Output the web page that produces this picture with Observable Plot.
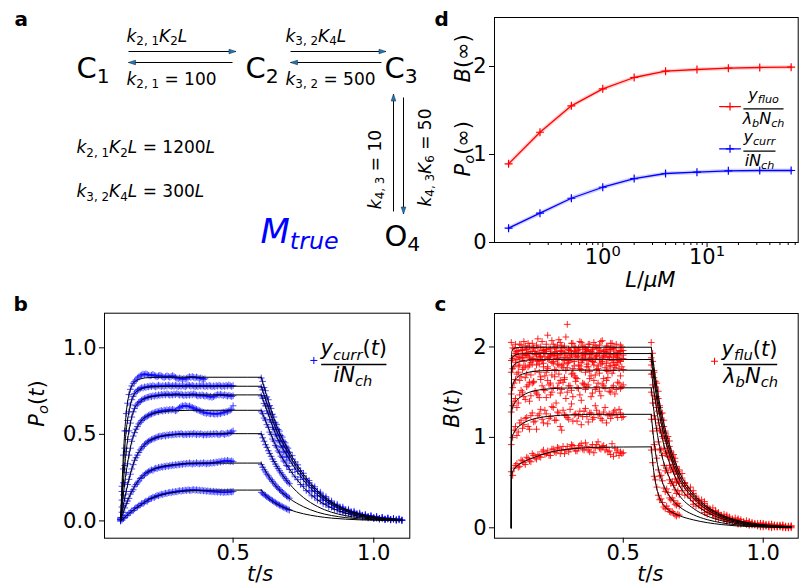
<!DOCTYPE html>
<html><head><meta charset="utf-8">
<script src="https://cdn.jsdelivr.net/npm/d3@7"></script>
<script src="https://cdn.jsdelivr.net/npm/@observablehq/plot@0.6"></script>
<style>
html,body{margin:0;padding:0;background:#fff;}
#fig{position:relative;width:799px;height:587px;overflow:hidden;background:#fff;}
#fig > svg{position:absolute;}
</style></head><body><div id="fig"></div>
<script>
// ================= DATA =================
// ---- panel a (kinetic scheme) ----
const states = ["C_{1}", "C_{2}", "C_{3}", "O_{4}"];
const forwardRates = ["$k_{2, 1}K_{2}L", "$k_{3, 2}K_{4}L"];
const backwardRates = ["$k_{2, 1} = 100", "$k_{3, 2} = 500"];
const verticalRates = ["$k_{4, 3} = 10", "$k_{4, 3}K_{6} = 50"];
const rateNotes = ["$k_{2, 1}K_{2}L = 1200L", "$k_{3, 2}K_{4}L = 300L"];
const modelName = "$M_{true}";

// ---- panel d ----
const ligandConc = [0.125, 0.25, 0.5, 1, 2, 4, 8, 16, 32, 64];
const bInfinity = [0.894, 1.253, 1.553, 1.746, 1.875, 1.947, 1.966, 1.981, 1.989, 1.992];
const poInfinity = [0.163, 0.333, 0.503, 0.628, 0.727, 0.784, 0.799, 0.815, 0.818, 0.818];
const dXTicks = [1, 10];
const dXTickLabels = ["10^{0}", "10^{1}"];
const dXMinorTicks = [0.2, 0.3, 0.4, 0.5, 0.6, 0.7, 0.8, 0.9, 2, 3, 4, 5, 6, 7, 8, 9, 20, 30, 40, 50, 60, 70];
const dYTicks = [0, 1, 2];
const dYTickLabels = ["0", "1", "2"];

// ---- shared axis ticks ----
const tTicks = [0.5, 1.0];
const tTickLabels = ["0.5", "1.0"];
const poTicks = [0, 0.5, 1.0];
const poTickLabels = ["0.0", "0.5", "1.0"];
const brTicks = [0, 1, 2];
const brTickLabels = ["0", "1", "2"];

// ---- sampling times ----
const tRiseFine = [0.100,0.105,0.110,0.115,0.120,0.125,0.130,0.135,0.140,0.145,0.150,0.155,0.160,0.165,0.170,0.175,0.180,0.185,0.190,0.195,0.200,0.205,0.210,0.215,0.220,0.225,0.230,0.235,0.240,0.245,0.250,0.255,0.260,0.265,0.270,0.275,0.280,0.285,0.290,0.295,0.300,0.305,0.310,0.315,0.320,0.325,0.330,0.335,0.340,0.345,0.350,0.355,0.360,0.365,0.370,0.375,0.380,0.385,0.390,0.395,0.400,0.405,0.410,0.415,0.420,0.425,0.430,0.435,0.440,0.445,0.450,0.455,0.460,0.465,0.470,0.475,0.480,0.485,0.490,0.495,0.500];
const tDecayFine = [0.600,0.605,0.610,0.615,0.620,0.625,0.630,0.635,0.640,0.645,0.650,0.655,0.660,0.665,0.670,0.675,0.680,0.685,0.690,0.695,0.700,0.71,0.72,0.73,0.74,0.75,0.76,0.77,0.78,0.79,0.80,0.81,0.82,0.83,0.84,0.85,0.86,0.87,0.88,0.89,0.90,0.91,0.92,0.93,0.94,0.95,0.96,0.97,0.98,0.99,1.00,1.01,1.02,1.03,1.04,1.05,1.06,1.07,1.08,1.09,1.10];
const tRise = [0.10,0.11,0.12,0.13,0.14,0.15,0.16,0.17,0.18,0.19,0.20,0.21,0.22,0.23,0.24,0.25,0.26,0.27,0.28,0.29,0.30,0.31,0.32,0.33,0.34,0.35,0.36,0.37,0.38,0.39,0.40,0.41,0.42,0.43,0.44,0.45,0.46,0.47,0.48,0.49,0.50];
const tRiseMid = [0.105,0.115,0.125,0.135,0.145,0.155,0.165,0.175,0.185,0.195,0.205,0.215,0.225,0.235,0.245,0.255,0.265,0.275,0.285,0.295,0.305,0.315,0.325,0.335,0.345,0.355,0.365,0.375,0.385,0.395,0.405,0.415,0.425,0.435,0.445,0.455,0.465,0.475,0.485,0.495];
const tDecay = [0.60,0.61,0.62,0.63,0.64,0.65,0.66,0.67,0.68,0.69,0.70,0.72,0.74,0.76,0.78,0.80,0.82,0.84,0.86,0.88,0.90,0.92,0.94,0.96,0.98,1.00,1.02,1.04,1.06,1.08,1.10];
const tDecayMid = [0.605,0.615,0.625,0.635,0.645,0.655,0.665,0.675,0.685,0.695,0.71,0.73,0.75,0.77,0.79,0.81,0.83,0.85,0.87,0.89,0.91,0.93,0.95,0.97,0.99,1.01,1.03,1.05,1.07,1.09];

// ---- panel b: model (black) ----
const tModelRiseB = [0.10,0.11,0.12,0.13,0.14,0.15,0.17,0.20,0.25,0.30,0.35,0.40,0.50,0.60];
const poModelRise = [
  [0, 0.012, 0.028, 0.042, 0.055, 0.068, 0.09, 0.123, 0.152, 0.167, 0.174, 0.177, 0.178, 0.178],
  [0, 0.05, 0.095, 0.135, 0.17, 0.2, 0.245, 0.285, 0.315, 0.327, 0.332, 0.334, 0.334, 0.334],
  [0, 0.09, 0.17, 0.24, 0.3, 0.35, 0.41, 0.46, 0.49, 0.5, 0.503, 0.504, 0.504, 0.504],
  [0, 0.15, 0.28, 0.38, 0.46, 0.51, 0.57, 0.61, 0.63, 0.637, 0.639, 0.639, 0.639, 0.639],
  [0, 0.22, 0.40, 0.52, 0.60, 0.65, 0.69, 0.715, 0.725, 0.728, 0.728, 0.728, 0.728, 0.728],
  [0, 0.30, 0.52, 0.63, 0.70, 0.735, 0.76, 0.773, 0.777, 0.778, 0.778, 0.778, 0.778, 0.778],
  [0, 0.38, 0.62, 0.73, 0.78, 0.805, 0.82, 0.828, 0.83, 0.83, 0.83, 0.83, 0.83, 0.83]
];
const tModelDecayB = [0.60,0.62,0.65,0.70,0.75,0.80,0.85,0.90,0.95,1.00,1.05,1.10];
const poModelDecay = [
  [0.178, 0.14, 0.103, 0.065, 0.041, 0.026, 0.016, 0.01, 0.006, 0.004, 0.002, 0.001],
  [0.334, 0.275, 0.205, 0.13, 0.082, 0.05, 0.031, 0.019, 0.011, 0.007, 0.004, 0.002],
  [0.504, 0.43, 0.33, 0.215, 0.135, 0.083, 0.05, 0.03, 0.018, 0.01, 0.006, 0.003],
  [0.639, 0.56, 0.44, 0.30, 0.195, 0.122, 0.075, 0.045, 0.026, 0.015, 0.008, 0.004],
  [0.728, 0.64, 0.505, 0.355, 0.235, 0.15, 0.093, 0.056, 0.033, 0.019, 0.011, 0.006],
  [0.778, 0.68, 0.54, 0.38, 0.255, 0.165, 0.103, 0.063, 0.038, 0.022, 0.012, 0.006],
  [0.83, 0.72, 0.57, 0.40, 0.27, 0.175, 0.11, 0.068, 0.041, 0.024, 0.013, 0.007]
];
// ---- panel b: measured current / (i N_ch), sampled on tRiseFine / tDecayFine ----
const poDataRise = [
  [0.01,0.005,0.015,0.02,0.03,0.033,0.045,0.05,0.058,0.06,0.07,0.077,0.08,0.088,0.092,0.1,0.1,0.108,0.115,0.113,0.122,0.128,0.13,0.137,0.135,0.142,0.147,0.145,0.15,0.155,0.152,0.157,0.16,0.158,0.163,0.165,0.162,0.168,0.166,0.17,0.168,0.172,0.175,0.171,0.176,0.174,0.178,0.175,0.18,0.177,0.176,0.179,0.181,0.177,0.18,0.176,0.178,0.174,0.177,0.173,0.175,0.171,0.174,0.17,0.172,0.168,0.171,0.167,0.17,0.166,0.169,0.165,0.168,0.164,0.167,0.165,0.168,0.166,0.169,0.167,0.17],
  [0.01,0.02,0.05,0.075,0.1,0.115,0.13,0.155,0.17,0.18,0.2,0.21,0.22,0.23,0.245,0.25,0.26,0.265,0.275,0.28,0.285,0.29,0.295,0.292,0.3,0.305,0.302,0.31,0.307,0.313,0.31,0.316,0.313,0.318,0.315,0.32,0.318,0.323,0.32,0.325,0.322,0.327,0.324,0.329,0.326,0.331,0.328,0.333,0.33,0.335,0.331,0.328,0.333,0.33,0.336,0.332,0.329,0.334,0.331,0.336,0.333,0.329,0.334,0.331,0.336,0.333,0.338,0.335,0.34,0.337,0.343,0.34,0.346,0.343,0.348,0.345,0.35,0.346,0.343,0.347,0.342],
  [0.0,0.05,0.09,0.13,0.17,0.21,0.24,0.27,0.3,0.325,0.35,0.365,0.38,0.395,0.41,0.42,0.43,0.44,0.448,0.455,0.46,0.465,0.47,0.473,0.477,0.48,0.484,0.487,0.49,0.488,0.492,0.495,0.49,0.497,0.494,0.499,0.496,0.5,0.497,0.502,0.499,0.503,0.5,0.505,0.501,0.497,0.502,0.498,0.503,0.499,0.504,0.5,0.506,0.502,0.498,0.503,0.499,0.504,0.5,0.496,0.501,0.497,0.502,0.498,0.503,0.499,0.504,0.5,0.505,0.501,0.497,0.502,0.506,0.503,0.499,0.504,0.508,0.505,0.51,0.514,0.52],
  [0.0,0.08,0.15,0.22,0.28,0.33,0.38,0.42,0.46,0.49,0.51,0.53,0.545,0.56,0.57,0.58,0.588,0.595,0.6,0.605,0.61,0.615,0.618,0.622,0.625,0.628,0.632,0.63,0.635,0.638,0.634,0.64,0.637,0.642,0.638,0.644,0.64,0.645,0.641,0.636,0.64,0.648,0.655,0.66,0.665,0.662,0.667,0.663,0.66,0.664,0.658,0.655,0.651,0.648,0.644,0.641,0.637,0.634,0.63,0.627,0.624,0.621,0.625,0.62,0.618,0.622,0.619,0.616,0.62,0.617,0.622,0.619,0.624,0.628,0.625,0.632,0.63,0.636,0.64,0.645,0.665],
  [0.01,0.12,0.22,0.32,0.4,0.47,0.52,0.565,0.6,0.63,0.65,0.665,0.675,0.685,0.69,0.698,0.703,0.707,0.71,0.714,0.715,0.72,0.717,0.723,0.72,0.726,0.722,0.728,0.725,0.731,0.727,0.732,0.728,0.734,0.73,0.726,0.731,0.727,0.733,0.729,0.735,0.731,0.727,0.732,0.728,0.724,0.729,0.725,0.73,0.726,0.732,0.728,0.734,0.73,0.726,0.722,0.727,0.723,0.728,0.724,0.72,0.725,0.721,0.716,0.72,0.714,0.718,0.722,0.726,0.73,0.727,0.732,0.728,0.724,0.729,0.725,0.721,0.726,0.722,0.719,0.723],
  [0.01,0.17,0.3,0.42,0.52,0.58,0.63,0.67,0.7,0.72,0.735,0.745,0.755,0.76,0.765,0.77,0.768,0.774,0.771,0.777,0.774,0.78,0.776,0.782,0.778,0.774,0.779,0.784,0.78,0.776,0.781,0.777,0.783,0.779,0.785,0.781,0.777,0.782,0.778,0.784,0.78,0.776,0.781,0.777,0.783,0.779,0.775,0.78,0.786,0.782,0.778,0.783,0.779,0.775,0.78,0.776,0.782,0.778,0.784,0.78,0.776,0.781,0.777,0.783,0.779,0.775,0.78,0.776,0.782,0.778,0.784,0.78,0.776,0.781,0.777,0.783,0.779,0.785,0.781,0.777,0.782],
  [0.02,0.2,0.38,0.52,0.62,0.68,0.73,0.76,0.78,0.795,0.805,0.815,0.825,0.832,0.838,0.843,0.848,0.845,0.85,0.846,0.842,0.838,0.842,0.846,0.841,0.837,0.833,0.838,0.842,0.837,0.833,0.829,0.834,0.838,0.834,0.83,0.835,0.839,0.834,0.829,0.825,0.821,0.826,0.822,0.818,0.823,0.819,0.824,0.829,0.833,0.829,0.834,0.83,0.826,0.831,0.827,0.822,0.826,0.822,0.818,0.821]
];
const poDataDecay = [
  [0.165,0.16,0.152,0.147,0.14,0.134,0.128,0.122,0.117,0.111,0.106,0.1,0.096,0.091,0.087,0.082,0.078,0.074,0.07,0.066,0.062],
  [0.325,0.31,0.295,0.283,0.27,0.26,0.248,0.238,0.228,0.218,0.207,0.198,0.19,0.181,0.174,0.166,0.158,0.151,0.144,0.138,0.131],
  [0.5,0.48,0.46,0.44,0.425,0.405,0.39,0.373,0.357,0.343,0.328,0.315,0.302,0.29,0.278,0.266,0.255,0.244,0.234,0.224,0.215],
  [0.63,0.62,0.594,0.582,0.556,0.541,0.513,0.5,0.473,0.461,0.436,0.427,0.404,0.396,0.374,0.367,0.346,0.34,0.32,0.315,0.297,0.28,0.255,0.238,0.21,0.2,0.175,0.168,0.145,0.139,0.12,0.116,0.099,0.096,0.08,0.079,0.066,0.065,0.053,0.053,0.043,0.043,0.035,0.035,0.027,0.028,0.022,0.023,0.017,0.018,0.014,0.015,0.01,0.012,0.008,0.01,0.006,0.008,0.004,0.006,0.003],
  [0.722,0.709,0.679,0.665,0.636,0.619,0.586,0.571,0.541,0.529,0.501,0.491,0.465,0.456,0.431,0.423,0.4,0.393,0.371,0.368,0.351,0.333,0.299,0.285,0.253,0.24,0.212,0.203,0.177,0.17,0.146,0.143,0.122,0.119,0.099,0.098,0.081,0.081,0.065,0.066,0.052,0.055,0.042,0.045,0.033,0.037,0.026,0.03,0.02,0.025,0.015,0.021,0.011,0.018,0.008,0.015,0.006,0.012,0.005,0.01,0.004],
  [0.772,0.757,0.724,0.708,0.676,0.66,0.628,0.613,0.582,0.569,0.536,0.527,0.501,0.493,0.467,0.46,0.436,0.429,0.405,0.399,0.376,0.357,0.322,0.305,0.273,0.26,0.23,0.22,0.193,0.186,0.161,0.157,0.135,0.131,0.11,0.108,0.09,0.089,0.073,0.074,0.059,0.061,0.048,0.05,0.038,0.041,0.03,0.034,0.024,0.028,0.018,0.024,0.014,0.02,0.01,0.016,0.008,0.013,0.005,0.01,0.004],
  [0.826,0.806,0.77,0.752,0.716,0.7,0.666,0.65,0.616,0.6,0.566,0.556,0.528,0.519,0.492,0.484,0.458,0.451,0.426,0.42,0.396,0.377,0.341,0.324,0.29,0.275,0.244,0.233,0.205,0.197,0.171,0.166,0.144,0.14,0.118,0.115,0.096,0.096,0.079,0.08,0.064,0.067,0.052,0.056,0.042,0.046,0.033,0.038,0.026,0.031,0.02,0.026,0.015,0.021,0.011,0.017,0.009,0.014,0.007,0.012,0.005]
];

// ---- panel c: model (black) ----
const tModelRiseC = [0.100,0.101,0.103,0.106,0.11,0.12,0.13,0.15,0.17,0.20,0.25,0.30,0.35,0.40,0.60];
const brModelRise = [
  [0,0.55,0.60,0.63,0.65,0.685,0.705,0.74,0.765,0.80,0.845,0.868,0.882,0.89,0.895],
  [0,0.95,1.0,1.03,1.055,1.10,1.13,1.17,1.195,1.218,1.238,1.248,1.253,1.255,1.255],
  [0,1.25,1.31,1.34,1.37,1.41,1.44,1.48,1.505,1.525,1.54,1.546,1.547,1.548,1.548],
  [0,1.50,1.56,1.59,1.62,1.66,1.685,1.71,1.725,1.736,1.741,1.743,1.743,1.743,1.743],
  [0,1.70,1.75,1.78,1.80,1.825,1.84,1.852,1.857,1.86,1.861,1.861,1.861,1.861,1.861],
  [0,1.83,1.87,1.89,1.905,1.918,1.923,1.926,1.927,1.927,1.927,1.927,1.927,1.927,1.927],
  [0,1.94,1.96,1.975,1.985,1.993,1.995,1.997,1.997,1.997,1.997,1.997,1.997,1.997,1.997]
];
const tModelDecayC = [0.60,0.61,0.62,0.63,0.65,0.67,0.70,0.75,0.80,0.85,0.90,0.95,1.00,1.05,1.10];
const brModelDecay = [
  [0.895,0.6,0.43,0.33,0.23,0.18,0.135,0.088,0.057,0.036,0.022,0.014,0.009,0.005,0.003],
  [1.255,0.95,0.74,0.6,0.43,0.33,0.235,0.145,0.09,0.056,0.034,0.021,0.013,0.008,0.005],
  [1.548,1.28,1.07,0.9,0.67,0.52,0.36,0.215,0.13,0.08,0.049,0.03,0.018,0.011,0.007],
  [1.743,1.5,1.29,1.12,0.86,0.68,0.47,0.28,0.17,0.104,0.063,0.038,0.023,0.014,0.009],
  [1.861,1.63,1.42,1.24,0.97,0.77,0.54,0.33,0.2,0.122,0.075,0.046,0.028,0.017,0.011],
  [1.927,1.70,1.49,1.31,1.03,0.82,0.58,0.355,0.22,0.135,0.083,0.051,0.031,0.019,0.012],
  [1.997,1.77,1.56,1.38,1.09,0.87,0.62,0.38,0.235,0.145,0.09,0.055,0.034,0.021,0.013]
];
// ---- panel c: measured fluorescence / (lambda_b N_ch) ----
const brDataRise = [
  [0.62,0.66,0.71,0.68,0.74,0.70,0.77,0.73,0.80,0.76,0.79,0.84,0.81,0.85,0.80,0.87,0.83,0.88,0.86,0.82,0.90,0.87,0.91,0.85,0.89,0.93,0.86,0.90,0.84,0.92,0.88,0.95,0.87,0.91,0.89,0.85,0.93,0.88,0.86,0.84,0.83],
  [0.92,1.08,1.02,1.16,1.10,1.21,1.12,1.24,1.17,1.09,1.26,1.20,1.30,1.15,1.23,1.33,1.19,1.27,1.08,1.25,1.22,1.31,1.18,1.26,1.24,1.14,1.29,1.23,1.27,1.20,1.35,1.25,1.21,1.28,1.16,1.26,1.24,1.30,1.22,1.27,1.23],
  [1.28,1.40,1.33,1.47,1.50,1.42,1.58,1.46,1.61,1.49,1.44,1.57,1.52,1.63,1.47,1.55,1.38,1.60,1.53,1.66,1.50,1.57,1.45,1.62,1.54,1.41,1.59,1.56,1.65,1.49,1.53,1.60,1.46,1.57,1.63,1.51,1.55,1.48,1.61,1.54,1.58],
  [1.48,1.60,1.70,1.63,1.75,1.66,1.78,1.69,1.62,1.80,1.72,1.85,1.68,1.76,1.60,1.82,1.74,1.70,1.79,1.64,1.77,1.86,1.71,1.66,1.80,1.75,1.58,1.78,1.73,1.84,1.69,1.76,1.81,1.65,1.74,1.79,1.71,1.77,1.83,1.68,1.75],
  [1.72,1.78,1.86,1.80,1.88,1.79,1.90,1.83,1.87,1.92,1.81,1.85,1.89,1.78,1.91,1.84,1.87,1.80,1.93,1.85,1.82,1.88,1.76,1.90,1.86,1.83,1.94,1.81,1.87,1.84,1.89,1.79,1.86,1.91,1.82,1.88,1.85,1.80,1.90,1.84,1.87],
  [1.85,1.90,1.95,1.88,1.97,1.91,1.94,1.86,1.99,1.92,1.89,1.96,1.93,1.87,1.98,1.91,1.95,1.88,2.01,1.93,1.90,1.96,1.86,1.94,1.99,1.91,1.88,1.95,1.92,1.97,1.87,1.93,1.96,1.90,1.94,1.89,1.98,1.92,1.88,1.95,1.91],
  [2.05,1.98,1.93,2.03,1.96,2.01,2.04,1.95,1.99,2.02,1.94,2.06,1.97,2.13,1.92,2.03,1.98,2.08,1.95,2.01,2.25,1.96,2.04,1.99,1.93,2.05,2.00,1.97,2.03,1.94,2.02,1.98,2.06,1.95,2.01,1.97,2.04,1.99,1.93,2.02,1.96]
];
const brDataRiseMid = [
  [0.58,0.69,0.67,0.75,0.72,0.78,0.74,0.82,0.77,0.81,0.78,0.86,0.82,0.80,0.87,0.84,0.89,0.82,0.90,0.86,0.84,0.92,0.88,0.85,0.91,0.87,0.94,0.86,0.89,0.83,0.92,0.88,0.90,0.86,0.84,0.81,0.79,0.83,0.80,0.82],
  [1.00,1.12,1.06,1.19,1.14,1.22,1.09,1.27,1.18,1.24,1.31,1.16,1.26,1.21,1.34,1.19,1.28,1.12,1.30,1.24,1.20,1.37,1.25,1.18,1.29,1.23,1.32,1.17,1.27,1.22,1.30,1.26,1.19,1.33,1.24,1.21,1.28,1.25,1.31,1.22],
  [1.35,1.43,1.38,1.52,1.45,1.56,1.40,1.60,1.51,1.47,1.64,1.53,1.44,1.58,1.50,1.67,1.55,1.49,1.61,1.43,1.57,1.52,1.68,1.55,1.47,1.60,1.53,1.58,1.45,1.63,1.56,1.51,1.59,1.54,1.66,1.50,1.57,1.53,1.60,1.56],
  [1.55,1.64,1.72,1.67,1.77,1.70,1.61,1.81,1.73,1.84,1.67,1.78,1.72,1.88,1.69,1.75,1.81,1.63,1.77,1.74,1.83,1.70,1.79,1.65,1.76,1.85,1.72,1.78,1.68,1.80,1.75,1.71,1.82,1.77,1.73,1.79,1.74,1.80,1.76,1.78],
  [1.76,1.83,1.79,1.88,1.84,1.91,1.80,1.87,1.93,1.85,1.89,1.82,1.95,1.86,1.83,1.90,1.87,1.92,1.81,1.88,1.85,1.91,1.84,1.89,1.79,1.87,1.92,1.85,1.88,1.83,1.90,1.86,1.84,1.89,1.86,1.92,1.83,1.88,1.85,1.87],
  [1.87,1.93,1.89,1.96,1.91,1.98,1.88,1.95,1.92,1.99,1.90,1.94,1.97,1.89,1.93,2.00,1.91,1.96,1.88,1.94,1.98,1.92,1.95,1.89,1.97,1.93,1.90,1.96,1.92,1.99,1.91,1.94,1.88,1.95,1.93,1.97,1.90,1.94,1.92,1.96],
  [1.99,2.03,1.96,2.02,2.06,1.97,2.01,2.04,1.95,2.09,2.00,1.96,2.03,1.98,2.07,1.94,2.02,2.05,1.99,2.11,1.97,2.04,2.00,1.96,2.06,2.01,1.98,2.03,1.95,2.05,1.99,2.02,2.07,1.97,2.01,2.04,1.98,2.03,1.96,2.00]
];
const brDataDecay = [
  [0.86,0.57,0.45,0.31,0.28,0.21,0.21,0.17,0.16,0.13,0.14],
  [1.20,0.92,0.77,0.57,0.52,0.40,0.39,0.31,0.30,0.25,0.24],
  [1.50,1.24,1.10,0.86,0.80,0.63,0.61,0.49,0.47,0.38,0.37],
  [1.70,1.46,1.33,1.08,1.01,0.82,0.79,0.64,0.62,0.50,0.49,0.36,0.33,0.24,0.22,0.15,0.15,0.10,0.11,0.07,0.07,0.04,0.05,0.03,0.03,0.01,0.03,0.01,0.02,0.00,0.01],
  [1.80,1.66,1.38,1.27,1.05,0.99,0.83,0.79,0.65,0.63,0.51,0.47,0.35,0.32,0.23,0.22,0.15,0.15,0.09,0.10,0.06,0.07,0.04,0.05,0.02,0.04,0.01,0.03,0.01,0.02,0.00],
  [1.88,1.74,1.45,1.35,1.12,1.07,0.88,0.85,0.70,0.68,0.55,0.50,0.37,0.35,0.25,0.24,0.16,0.17,0.10,0.12,0.07,0.09,0.04,0.06,0.03,0.05,0.01,0.03,0.02,0.00,0.02],
  [2.05,1.72,1.60,1.33,1.27,1.05,1.01,0.83,0.81,0.66,0.64,0.49,0.45,0.32,0.31,0.21,0.22,0.14,0.15,0.09,0.11,0.06,0.08,0.04,0.05,0.02,0.04,0.01,0.03,0.01,0.02]
];
const brDataDecayMid = [
  [0.72,0.53,0.36,0.32,0.23,0.24,0.18,0.18,0.14,0.15],
  [1.07,0.87,0.64,0.58,0.44,0.43,0.33,0.33,0.26,0.27],
  [1.38,1.20,0.95,0.87,0.69,0.66,0.53,0.51,0.42,0.41],
  [1.58,1.42,1.16,1.07,0.88,0.84,0.69,0.67,0.54,0.53,0.41,0.37,0.26,0.25,0.17,0.17,0.11,0.12,0.07,0.08,0.04,0.06,0.03,0.04,0.01,0.03,0.00,0.02,0.01,0.00],
  [1.70,1.56,1.29,1.20,0.99,0.96,0.78,0.76,0.62,0.60,0.46,0.43,0.30,0.30,0.20,0.20,0.13,0.14,0.08,0.10,0.05,0.07,0.03,0.05,0.02,0.04,0.01,0.03,0.00,0.02],
  [1.84,1.55,1.43,1.19,1.12,0.93,0.90,0.74,0.73,0.59,0.55,0.41,0.38,0.27,0.27,0.18,0.18,0.12,0.12,0.08,0.09,0.05,0.06,0.03,0.05,0.02,0.04,0.01,0.03,0.00],
  [1.93,1.62,1.51,1.26,1.19,0.99,0.96,0.78,0.77,0.62,0.60,0.44,0.41,0.30,0.29,0.20,0.19,0.13,0.14,0.09,0.10,0.06,0.07,0.04,0.05,0.02,0.04,0.01,0.03,0.01]
];

// ================= HELPERS =================
const SVGNS = "http://www.w3.org/2000/svg";
const FONT = "DejaVu Sans";
const BLUE = "#0000ff", RED = "#ff0000";
const fig = document.getElementById("fig");

function rows(tArr, list, phase) {
  const out = [];
  list.forEach((vals, k) => vals.forEach((v, i) => out.push({t: tArr[i], v, key: phase + k})));
  return out;
}
function place(svg, left, top) {
  svg.style.position = "absolute";
  svg.style.left = left + "px";
  svg.style.top = top + "px";
  fig.appendChild(svg);
  mathify(svg);
}
// tiny mathtext: "$" prefix -> italic letters; _{..} subscript; ^{..} superscript
function mathify(root) {
  root.querySelectorAll("text").forEach(el => {
    const raw = el.textContent;
    if (!(raw.startsWith("$") || raw.includes("_{") || raw.includes("^{"))) return;
    const math = raw.startsWith("$");
    const src = math ? raw.slice(1) : raw;
    const fs = parseFloat(getComputedStyle(el).fontSize) || 16;
    el.textContent = "";
    const stack = [];
    let size = fs, dyPending = 0, buf = "", bufItalic = false;
    const flush = () => {
      if (!buf) return;
      const ts = document.createElementNS(SVGNS, "tspan");
      ts.textContent = buf;
      ts.setAttribute("font-size", size.toFixed(2));
      if (bufItalic) ts.setAttribute("font-style", "italic");
      if (dyPending) { ts.setAttribute("dy", dyPending.toFixed(2)); dyPending = 0; }
      el.appendChild(ts);
      buf = "";
    };
    for (let i = 0; i < src.length; i++) {
      const ch = src[i];
      if ((ch === "_" || ch === "^") && src[i + 1] === "{") {
        flush();
        const shift = ch === "_" ? 0.2 * size : -0.4 * size;
        stack.push({shift, size});
        dyPending += shift;
        size = size * 0.7;
        i++;
        continue;
      }
      if (ch === "}" && stack.length) {
        flush();
        const s = stack.pop();
        dyPending -= s.shift;
        size = s.size;
        continue;
      }
      const it = math && /[A-Za-z\u0370-\u03FF]/.test(ch);
      if (buf && it !== bufItalic) flush();
      bufItalic = it;
      buf += ch;
    }
    flush();
  });
}
const baseStyle = {fontFamily: FONT, fontSize: "21px", background: "transparent", overflow: "visible", color: "black"};
const lookup = (ticks, labels) => d => labels[ticks.indexOf(d)];

// ================= PANEL a =================
{
  const lay = {
    states: [[76, 77], [245, 77], [384, 77], [384, 245]],
    fwd: [[126, 41.5], [285, 41.5]],
    bwd: [[126, 84.5], [285, 84.5]],
    vert: [[380, 169], [430, 157]],
    notes: [[76, 152.7], [76, 196.7]],
    model: [260, 242],
    arrows: [
      {x1: 128, y1: 51, x2: 235.5, y2: 51},
      {x1: 232, y1: 62, x2: 128, y2: 62},
      {x1: 290, y1: 51, x2: 385.5, y2: 51},
      {x1: 381, y1: 62, x2: 290, y2: 62},
      {x1: 393, y1: 211, x2: 393, y2: 93.5},
      {x1: 403, y1: 97, x2: 403, y2: 213.5}
    ]
  };
  const head = (ux, uy) => ({draw(ctx) {
    const L = 7, W = 2.3, px = -uy, py = ux;
    ctx.moveTo(0, 0);
    ctx.lineTo(-ux * L + px * W, -uy * L + py * W);
    ctx.lineTo(-ux * L - px * W, -uy * L - py * W);
    ctx.closePath();
  }});
  const headMarks = lay.arrows.map(a => {
    const dx = a.x2 - a.x1, dy = a.y2 - a.y1, n = Math.hypot(dx, dy);
    return Plot.dot([a], {x: "x2", y: "y2", symbol: head(dx / n, dy / n), fill: "#1f77b4", stroke: "#1a3550", strokeWidth: 0.6, r: 3});
  });
  const txt = (arr, pos, opts) => Plot.text(arr.map((s, i) => ({s, x: pos[i][0], y: pos[i][1]})),
    {x: "x", y: "y", text: "s", lineAnchor: "bottom", textAnchor: "start", ...opts});
  const svg = Plot.plot({
    width: 440, height: 260, margin: 0,
    x: {type: "identity", axis: null}, y: {type: "identity", axis: null},
    style: baseStyle,
    marks: [
      Plot.link(lay.arrows, {x1: "x1", y1: "y1", x2: "x2", y2: "y2", stroke: "black", strokeWidth: 1}),
      ...headMarks,
      txt(states, lay.states, {fontSize: 29}),
      txt(forwardRates, lay.fwd, {fontSize: 17}),
      txt(backwardRates, lay.bwd, {fontSize: 17}),
      txt(rateNotes, lay.notes, {fontSize: 17}),
      txt(verticalRates, lay.vert, {fontSize: 17, rotate: -90, textAnchor: "middle"}),
      txt([modelName], [lay.model], {fontSize: 34, fill: BLUE}),
      txt(["a"], [[14, 25]], {fontSize: 20, fontWeight: "bold"})
    ]
  });
  place(svg, 0, 0);
}

// ================= PANEL d =================
{
  const red = ligandConc.map((L, i) => ({L, v: bInfinity[i]}));
  const blue = ligandConc.map((L, i) => ({L, v: poInfinity[i]}));
  const svg = Plot.plot({
    width: 379, height: 290,
    marginLeft: 74, marginRight: 1.3, marginTop: 17, marginBottom: 48,
    x: {type: "log", domain: [0.0916, 74.8], label: null},
    y: {domain: [0, 2.557], label: null},
    style: baseStyle,
    marks: [
      Plot.line(red, {x: "L", y: "v", stroke: RED, strokeWidth: 4, strokeOpacity: 0.18}),
      Plot.line(blue, {x: "L", y: "v", stroke: BLUE, strokeWidth: 4, strokeOpacity: 0.18}),
      Plot.line(red, {x: "L", y: "v", stroke: RED, strokeWidth: 1.3}),
      Plot.line(blue, {x: "L", y: "v", stroke: BLUE, strokeWidth: 1.3}),
      Plot.dot(red, {x: "L", y: "v", symbol: "plus", r: 2.7, stroke: RED, strokeWidth: 1.2}),
      Plot.dot(blue, {x: "L", y: "v", symbol: "plus", r: 2.7, stroke: BLUE, strokeWidth: 1.2}),
      // legend
      Plot.line([{L: 13.2, v: 1.545}, {L: 20.9, v: 1.545}], {x: "L", y: "v", stroke: RED, strokeWidth: 1.3}),
      Plot.dot([{L: 16.6, v: 1.545}], {x: "L", y: "v", symbol: "plus", r: 2.7, stroke: RED, strokeWidth: 1.2}),
      Plot.text(["$y_{fluo}"], {x: 34.8, y: 1.62, text: d => d, fontSize: 16, lineAnchor: "bottom"}),
      Plot.link([{x1: 22.3, x2: 54.1, y: 1.519}], {x1: "x1", x2: "x2", y1: "y", y2: "y", stroke: "black", strokeWidth: 1.3}),
      Plot.text(["$λ_{b}N_{ch}"], {x: 34.8, y: 1.352, text: d => d, fontSize: 16, lineAnchor: "bottom"}),
      Plot.line([{L: 13.2, v: 1.065}, {L: 20.9, v: 1.065}], {x: "L", y: "v", stroke: BLUE, strokeWidth: 1.3}),
      Plot.dot([{L: 16.6, v: 1.065}], {x: "L", y: "v", symbol: "plus", r: 2.7, stroke: BLUE, strokeWidth: 1.2}),
      Plot.text(["$y_{curr}"], {x: 31.8, y: 1.14, text: d => d, fontSize: 16, lineAnchor: "bottom"}),
      Plot.link([{x1: 22.3, x2: 45.3, y: 1.0375}], {x1: "x1", x2: "x2", y1: "y", y2: "y", stroke: "black", strokeWidth: 1.3}),
      Plot.text(["$iN_{ch}"], {x: 31.8, y: 0.872, text: d => d, fontSize: 16, lineAnchor: "bottom"}),
      // axes
      Plot.axisX(dXMinorTicks, {tickSize: 3, tickFormat: () => "", label: null}),
      Plot.axisX(dXTicks, {tickSize: 5, tickPadding: 1.5, tickFormat: lookup(dXTicks, dXTickLabels), label: null}),
      Plot.axisY(dYTicks, {tickSize: 5, tickPadding: 3, tickFormat: lookup(dYTicks, dYTickLabels), label: null}),
      Plot.text(["$L/μM"], {frameAnchor: "bottom", text: d => d, dy: 44, dx: 4, lineAnchor: "bottom"}),
      Plot.text(["$B(∞)"], {frameAnchor: "left", text: d => d, dx: -24.5, dy: -47.5, rotate: -90, lineAnchor: "bottom"}),
      Plot.text(["$P_{o}(∞)"], {frameAnchor: "left", text: d => d, dx: -24.5, dy: 46.5, rotate: -90, lineAnchor: "bottom"}),
      Plot.text(["d"], {frameAnchor: "top-left", text: d => d, dx: -60, dy: 8, fontSize: 20, fontWeight: "bold", textAnchor: "start", lineAnchor: "bottom"}),
      Plot.frame({stroke: "black", strokeWidth: 1})
    ]
  });
  place(svg, 420, 0);
}

// ================= PANEL b =================
{
  const modelRows = [...rows(tModelRiseB, poModelRise, "r"), ...rows(tModelDecayB, poModelDecay, "d")];
  const dataRows = [...rows(tRiseFine, poDataRise, "r"), ...rows(tDecayFine, poDataDecay, "d")];
  const svg = Plot.plot({
    width: 420, height: 297,
    marginLeft: 104, marginRight: 10.7, marginTop: 22.7, marginBottom: 49.3,
    x: {domain: [0.043, 1.128], label: null},
    y: {domain: [-0.1, 1.2], label: null},
    style: baseStyle,
    marks: [
      Plot.dot(dataRows, {x: "t", y: "v", symbol: "plus", r: 2.3, stroke: BLUE, strokeWidth: 1, strokeOpacity: 0.7}),
      Plot.line(modelRows, {x: "t", y: "v", z: "key", stroke: "black", strokeWidth: 1, curve: "monotone-x"}),
      // legend
      Plot.dot([{t: 0.787, v: 0.927}], {x: "t", y: "v", symbol: "plus", r: 2.4, stroke: BLUE, strokeWidth: 1}),
      Plot.text(["$y_{curr}(t)"], {x: 0.929, y: 0.956, text: d => d, lineAnchor: "bottom"}),
      Plot.link([{x1: 0.813, x2: 1.045, y: 0.904}], {x1: "x1", x2: "x2", y1: "y", y2: "y", stroke: "black", strokeWidth: 1.5}),
      Plot.text(["$iN_{ch}"], {x: 0.926, y: 0.801, text: d => d, lineAnchor: "bottom"}),
      // axes
      Plot.axisX(tTicks, {tickSize: 5, tickPadding: 2, tickFormat: lookup(tTicks, tTickLabels), label: null}),
      Plot.axisY(poTicks, {tickSize: 5, tickPadding: 3, tickFormat: lookup(poTicks, poTickLabels), label: null}),
      Plot.text(["$t/s"], {frameAnchor: "bottom", text: d => d, dy: 42.3, dx: 3, lineAnchor: "bottom"}),
      Plot.text(["$P_{o}(t)"], {frameAnchor: "left", text: d => d, dx: -61, dy: 1, rotate: -90, lineAnchor: "bottom"}),
      Plot.text(["b"], {frameAnchor: "top-left", text: d => d, dx: -91, dy: -2.7, fontSize: 20, fontWeight: "bold", textAnchor: "start", lineAnchor: "bottom"}),
      Plot.frame({stroke: "black", strokeWidth: 1})
    ]
  });
  place(svg, 0, 290);
}

// ================= PANEL c =================
{
  const modelRows = [...rows(tModelRiseC, brModelRise, "r"), ...rows(tModelDecayC, brModelDecay, "d")];
  const dataRows = [
    ...rows(tRise, brDataRise, "r"), ...rows(tRiseMid, brDataRiseMid, "rm"),
    ...rows(tDecay, brDataDecay, "d"), ...rows(tDecayMid, brDataDecayMid, "dm")
  ];
  const svg = Plot.plot({
    width: 379, height: 297,
    marginLeft: 74, marginRight: 1.3, marginTop: 23, marginBottom: 49.3,
    x: {domain: [0.040, 1.125], label: null},
    y: {domain: [-0.115, 2.37], label: null},
    style: baseStyle,
    marks: [
      Plot.dot(dataRows, {x: "t", y: "v", symbol: "plus", r: 2.3, stroke: RED, strokeWidth: 1, strokeOpacity: 0.85}),
      Plot.line(modelRows, {x: "t", y: "v", z: "key", stroke: "black", strokeWidth: 1, curve: "monotone-x"}),
      // legend
      Plot.dot([{t: 0.826, v: 1.842}], {x: "t", y: "v", symbol: "plus", r: 2.4, stroke: RED, strokeWidth: 1}),
      Plot.text(["$y_{flu}(t)"], {x: 0.951, y: 1.905, text: d => d, lineAnchor: "bottom"}),
      Plot.link([{x1: 0.857, x2: 1.050, y: 1.806}], {x1: "x1", x2: "x2", y1: "y", y2: "y", stroke: "black", strokeWidth: 1.5}),
      Plot.text(["$λ_{b}N_{ch}"], {x: 0.955, y: 1.599, text: d => d, lineAnchor: "bottom"}),
      // axes
      Plot.axisX(tTicks, {tickSize: 5, tickPadding: 2, tickFormat: lookup(tTicks, tTickLabels), label: null}),
      Plot.axisY(brTicks, {tickSize: 5, tickPadding: 3, tickFormat: lookup(brTicks, brTickLabels), label: null}),
      Plot.text(["$t/s"], {frameAnchor: "bottom", text: d => d, dy: 42.3, dx: 4, lineAnchor: "bottom"}),
      Plot.text(["$B(t)"], {frameAnchor: "left", text: d => d, dx: -36, dy: 2, rotate: -90, lineAnchor: "bottom"}),
      Plot.text(["c"], {frameAnchor: "top-left", text: d => d, dx: -60, dy: -3, fontSize: 20, fontWeight: "bold", textAnchor: "start", lineAnchor: "bottom"}),
      Plot.frame({stroke: "black", strokeWidth: 1})
    ]
  });
  place(svg, 420, 290);
}
</script></body></html>
